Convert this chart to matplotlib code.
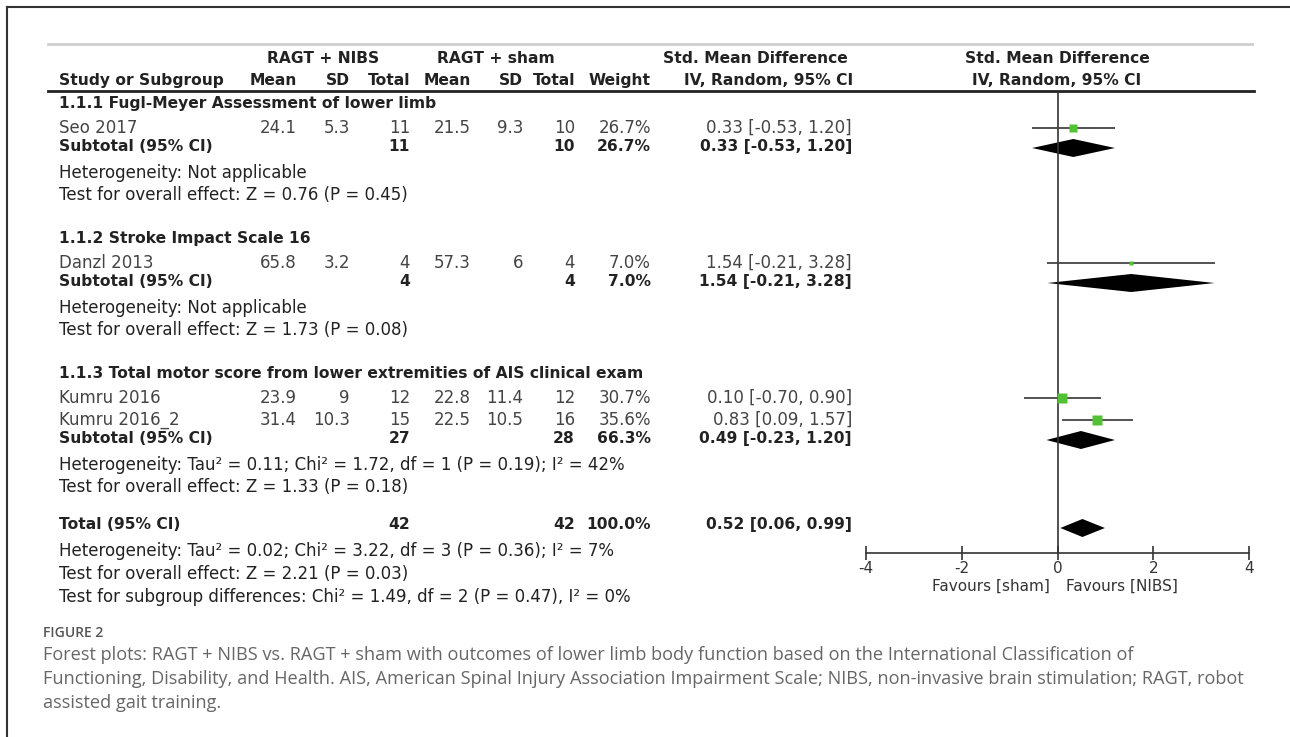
import matplotlib
matplotlib.use("Agg")
import matplotlib.pyplot as plt

plt.rcParams.update({"font.family": "DejaVu Sans", "axes.unicode_minus": False})

# ---- data -------------------------------------------------------------
studies = ["Seo 2017", "Danzl 2013", "Kumru 2016", "Kumru 2016_2"]
study_group = [0, 1, 2, 2]
nibs_mean = ["24.1", "65.8", "23.9", "31.4"]
nibs_sd = ["5.3", "3.2", "9", "10.3"]
nibs_n = [11, 4, 12, 15]
sham_mean = ["21.5", "57.3", "22.8", "22.5"]
sham_sd = ["9.3", "6", "11.4", "10.5"]
sham_n = [10, 4, 12, 16]
weights = [26.7, 7.0, 30.7, 35.6]
smd = [0.33, 1.54, 0.10, 0.83]
smd_lo = [-0.53, -0.21, -0.70, 0.09]
smd_hi = [1.20, 3.28, 0.90, 1.57]

groups = ["1.1.1 Fugl-Meyer Assessment of lower limb",
          "1.1.2 Stroke Impact Scale 16",
          "1.1.3 Total motor score from lower extremities of AIS clinical exam"]
group_nibs_n = [11, 4, 27]
group_sham_n = [10, 4, 28]
group_weight = [26.7, 7.0, 66.3]
group_smd = [0.33, 1.54, 0.49]
group_lo = [-0.53, -0.21, -0.23]
group_hi = [1.20, 3.28, 1.20]
group_het = ["Heterogeneity: Not applicable",
             "Heterogeneity: Not applicable",
             "Heterogeneity: Tau² = 0.11; Chi² = 1.72, df = 1 (P = 0.19); I² = 42%"]
group_test = ["Test for overall effect: Z = 0.76 (P = 0.45)",
              "Test for overall effect: Z = 1.73 (P = 0.08)",
              "Test for overall effect: Z = 1.33 (P = 0.18)"]

total_nibs_n, total_sham_n, total_weight = 42, 42, 100.0
total_smd, total_lo, total_hi = 0.52, 0.06, 0.99
total_notes = ["Heterogeneity: Tau² = 0.02; Chi² = 3.22, df = 3 (P = 0.36); I² = 7%",
               "Test for overall effect: Z = 2.21 (P = 0.03)",
               "Test for subgroup differences: Chi² = 1.49, df = 2 (P = 0.47), I² = 0%"]

ticks = [-4, -2, 0, 2, 4]
caption = ["Forest plots: RAGT + NIBS vs. RAGT + sham with outcomes of lower limb body function based on the International Classification of",
           "Functioning, Disability, and Health. AIS, American Spinal Injury Association Impairment Scale; NIBS, non-invasive brain stimulation; RAGT, robot",
           "assisted gait training."]

# ---- layout (pixels) ----------------------------------------------------
W, H = 1290, 737
GREEN = "#52c234"
FS, FSB = 12, 11.15
col_x = [297, 350, 410, 471, 523, 575, 651]   # right edges of numeric columns
CI_X = 852
X0, X_LEFT, X_RIGHT = 1057, 866, 1249         # forest plot zero / -4 / 4
AX_Y, HEAD_Y = 553, 91

fig = plt.figure(figsize=(W / 100, H / 100), dpi=100)
ax = fig.add_axes([0, 0, 1, 1])
ax.set_xlim(0, W)
ax.set_ylim(H, 0)
ax.axis("off")

fax = fig.add_axes([X_LEFT / W, (H - AX_Y) / H, (X_RIGHT - X_LEFT) / W, (AX_Y - HEAD_Y) / H])
fax.set_xlim(-4, 4)
fax.set_ylim(AX_Y, HEAD_Y)
fax.patch.set_visible(False)
for s in ["top", "left", "right"]:
    fax.spines[s].set_visible(False)
fax.spines["bottom"].set_linewidth(1.2)
fax.spines["bottom"].set_color("#333")
fax.set_yticks([])
fax.set_xticks(ticks)
fax.tick_params(axis="x", direction="inout", length=10, width=1.2, color="#333",
                labelsize=11, labelcolor="#333", pad=1)
fax.axvline(0, color="#333", lw=1.2)


def txt(x, y, s, ha="left", bold=False, color="#222", size=None, **kw):
    ax.text(x, y + 5, s, ha=ha, va="baseline", color=color,
            fontsize=size or (FSB if bold else FS),
            fontweight="bold" if bold else "normal", **kw)


def row_values(y, vals, bold=False, color="#222"):
    for x, v in zip(col_x, vals):
        if v != "":
            txt(x, y, v, ha="right", bold=bold, color=color)


# frame and rules
ax.plot([7, W], [7, 7], color="#333", lw=1.5)
ax.plot([7, 7], [7, H], color="#333", lw=1.5)
ax.plot([48, 1252], [44, 44], color="#cfcfcf", lw=2)
ax.plot([48, 1254], [HEAD_Y, HEAD_Y], color="#222", lw=2)

# headers
txt(323, 58, "RAGT + NIBS", ha="center", bold=True)
txt(496, 58, "RAGT + sham", ha="center", bold=True)
txt(755, 58, "Std. Mean Difference", ha="center", bold=True)
txt(X0, 58, "Std. Mean Difference", ha="center", bold=True)
txt(59, 80, "Study or Subgroup", bold=True)
row_values(80, ["Mean", "SD", "Total", "Mean", "SD", "Total", "Weight"], bold=True)
txt(769, 80, "IV, Random, 95% CI", ha="center", bold=True)
txt(X0, 80, "IV, Random, 95% CI", ha="center", bold=True)


def diamond(y, est, lo, hi):
    fax.fill([lo, est, hi, est], [y, y - 9, y, y + 9], color="black", lw=0)


# rows
y = 103
for g, name in enumerate(groups):
    txt(59, y, name, bold=True)
    y += 25
    for i in [k for k in range(len(studies)) if study_group[k] == g]:
        txt(59, y, studies[i], color="#444")
        row_values(y, [nibs_mean[i], nibs_sd[i], str(nibs_n[i]), sham_mean[i],
                       sham_sd[i], str(sham_n[i]), f"{weights[i]:.1f}%"], color="#444")
        txt(CI_X, y, f"{smd[i]:.2f} [{smd_lo[i]:.2f}, {smd_hi[i]:.2f}]", ha="right", color="#444")
        fax.hlines(y, smd_lo[i], smd_hi[i], color="#444", lw=1.3)
        fax.plot(smd[i], y, "s", color=GREEN, mec="none",
                 ms=(weights[i] * 0.26 + 1.5) / 1.39)
        y += 22
    y -= 4
    txt(59, y, "Subtotal (95% CI)", bold=True)
    row_values(y, ["", "", str(group_nibs_n[g]), "", "", str(group_sham_n[g]),
                   f"{group_weight[g]:.1f}%"], bold=True)
    txt(CI_X, y, f"{group_smd[g]:.2f} [{group_lo[g]:.2f}, {group_hi[g]:.2f}]",
        ha="right", bold=True)
    diamond(y + 2, group_smd[g], group_lo[g], group_hi[g])
    y += 27
    txt(59, y, group_het[g])
    y += 22
    txt(59, y, group_test[g])
    y += 43

y -= 6
txt(59, y, "Total (95% CI)", bold=True)
row_values(y, ["", "", str(total_nibs_n), "", "", str(total_sham_n),
               f"{total_weight:.1f}%"], bold=True)
txt(CI_X, y, f"{total_smd:.2f} [{total_lo:.2f}, {total_hi:.2f}]", ha="right", bold=True)
diamond(y + 4, total_smd, total_lo, total_hi)
for k, note in enumerate(total_notes):
    y += 27 if k == 0 else 23
    txt(59, y, note)

txt(1050, 586, "Favours [sham]", ha="right", color="#333", size=11)
txt(1066, 586, "Favours [NIBS]", ha="left", color="#333", size=11)

# caption
ax.text(43, 637, "FIGURE 2", ha="left", va="baseline", color="#555",
        fontsize=10, fontfamily="Open Sans", fontweight="semibold")
for k, line in enumerate(caption):
    ax.text(43, 660 + 24 * k, line, ha="left", va="baseline", color="#666",
            fontsize=13.1, fontfamily="Open Sans")

fig.savefig("out.png", dpi=100)
